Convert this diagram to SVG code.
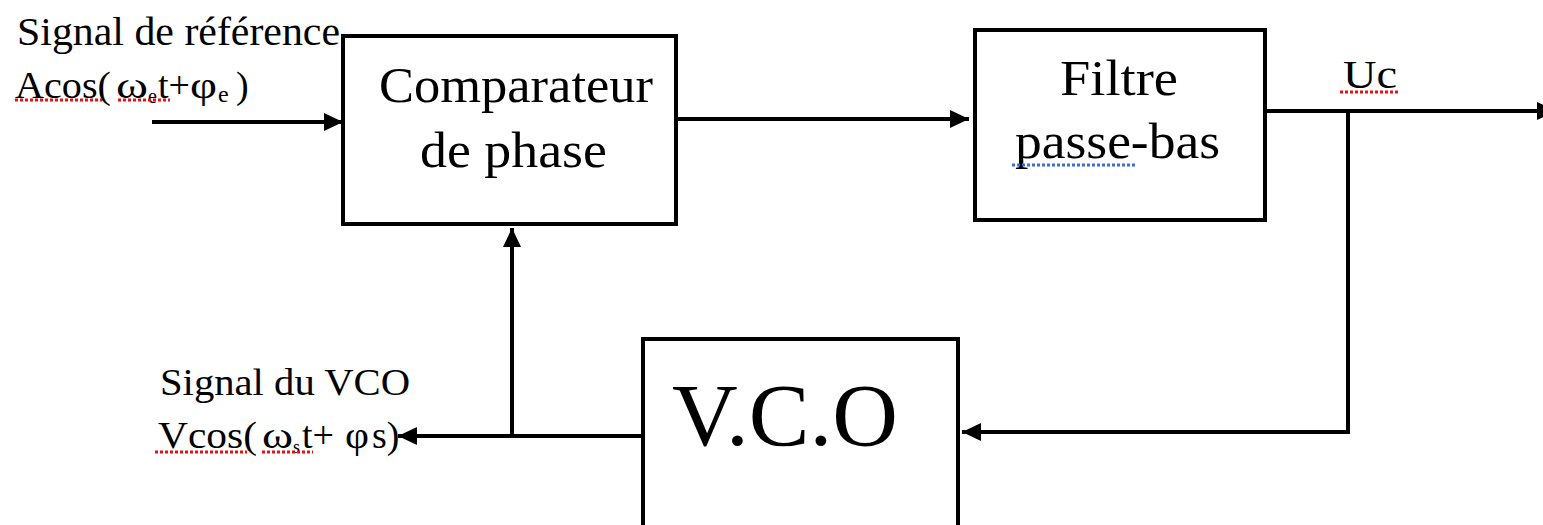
<svg xmlns="http://www.w3.org/2000/svg" width="1543" height="525" viewBox="0 0 1543 525">
<style>
.box{fill:#fff;stroke:#000;stroke-width:4}
.t{font-family:"Liberation Serif","Times New Roman",serif;fill:#000}
.ln{fill:none;stroke:#000;stroke-width:4}
.sp{stroke:#e81010;stroke-width:3;stroke-dasharray:3 2}
.sb{stroke:#3a6fd8;stroke-width:3;stroke-dasharray:3 2}
</style>
<defs>
<marker id="arr" markerUnits="userSpaceOnUse" markerWidth="20" markerHeight="20" refX="19" refY="10" orient="auto">
<path d="M0,1 L19,10 L0,19 z" fill="#000"/>
</marker>
</defs>
<rect width="1543" height="525" fill="#fff"/>
<g id="connectors">
<line class="ln" x1="152" y1="122" x2="343" y2="122" marker-end="url(#arr)"/>
<line class="ln" x1="678" y1="119" x2="969" y2="119" marker-end="url(#arr)"/>
<line class="ln" x1="1267" y1="111" x2="1556" y2="111" stroke-width="5" marker-end="url(#arr)"/>
<polyline class="ln" points="1348,109 1348,432 962,432" marker-end="url(#arr)"/>
<line class="ln" x1="641" y1="436" x2="398" y2="436" marker-end="url(#arr)"/>
<line class="ln" x1="512" y1="438" x2="512" y2="228" marker-end="url(#arr)"/>
</g>
<g id="comparateur">
<rect class="box" x="343" y="36" width="333" height="188"/>
<text class="t" x="379" y="102" font-size="50" textLength="274" lengthAdjust="spacingAndGlyphs">Comparateur</text>
<text class="t" x="420" y="167" font-size="50" textLength="187" lengthAdjust="spacingAndGlyphs">de phase</text>
</g>
<g id="filtre">
<rect class="box" x="975" y="30" width="290" height="190"/>
<text class="t" x="1060" y="95" font-size="50" textLength="118" lengthAdjust="spacingAndGlyphs">Filtre</text>
<text class="t" x="1015" y="158" font-size="50" textLength="205" lengthAdjust="spacingAndGlyphs">passe-bas</text>
<line class="sb" x1="1012" y1="165" x2="1137" y2="165"/>
</g>
<g id="vco">
<rect class="box" x="643" y="339" width="315" height="220"/>
<text class="t" x="672" y="445" font-size="88" textLength="226" lengthAdjust="spacingAndGlyphs">V.C.O</text>
</g>
<g id="ref-signal">
<text class="t" x="17" y="45" font-size="40" textLength="323" lengthAdjust="spacingAndGlyphs">Signal de référence</text>
<text class="t" y="98" font-size="38"><tspan x="15" textLength="96" lengthAdjust="spacingAndGlyphs">Acos(</tspan><tspan x="116" textLength="32" lengthAdjust="spacingAndGlyphs">ω</tspan><tspan x="148" font-size="20" dy="5">e</tspan><tspan x="158" dy="-5">t+</tspan><tspan x="190" textLength="27" lengthAdjust="spacingAndGlyphs">φ</tspan><tspan x="218" font-size="24" dy="4">e</tspan><tspan x="236" dy="-4">)</tspan></text>
<line class="sp" x1="15" y1="100" x2="102" y2="100"/>
<line class="sp" x1="118" y1="100" x2="170" y2="100"/>
</g>
<g id="vco-signal">
<text class="t" x="160" y="395" font-size="38" textLength="250" lengthAdjust="spacingAndGlyphs">Signal du VCO</text>
<text class="t" y="448" font-size="38"><tspan x="158" textLength="99" lengthAdjust="spacingAndGlyphs">Vcos(</tspan><tspan x="262" textLength="31" lengthAdjust="spacingAndGlyphs">ω</tspan><tspan x="293" font-size="18" dy="5">s</tspan><tspan x="302" dy="-5">t+</tspan><tspan x="345" textLength="24" lengthAdjust="spacingAndGlyphs">φ</tspan><tspan x="372">s)</tspan></text>
<line class="sp" x1="155" y1="452" x2="247" y2="452"/>
<line class="sp" x1="262" y1="452" x2="313" y2="452"/>
</g>
<g id="uc-label">
<text class="t" x="1343" y="88" font-size="40" textLength="54" lengthAdjust="spacingAndGlyphs">Uc</text>
<line class="sp" x1="1340" y1="92" x2="1400" y2="92"/>
</g>
</svg>
